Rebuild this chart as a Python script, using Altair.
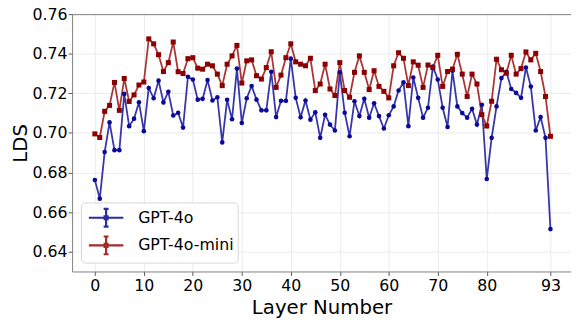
import altair as alt
import pandas as pd

models = ["GPT-4o", "GPT-4o-mini"]
line_colors = ["#2b2ba6", "#a52a2a"]
point_colors = ["#0a0a96", "#8b0000"]
x_ticks = [0, 10, 20, 30, 40, 50, 60, 70, 80, 93]
y_ticks = [0.64, 0.66, 0.68, 0.70, 0.72, 0.74, 0.76]

gpt4o = [0.6762, 0.6668, 0.6903, 0.7053, 0.6913, 0.6913, 0.7197, 0.7034, 0.7072, 0.7155,
         0.7009, 0.7227, 0.7175, 0.7264, 0.7154, 0.7208, 0.7088, 0.7102, 0.7027, 0.7284,
         0.7270, 0.7168, 0.7172, 0.7267, 0.7164, 0.7180, 0.6952, 0.7167, 0.7069, 0.7325,
         0.7050, 0.7175, 0.7237, 0.7168, 0.7114, 0.7114, 0.7309, 0.7080, 0.7162, 0.7162,
         0.7375, 0.7177, 0.7079, 0.7164, 0.7067, 0.7104, 0.6975, 0.7092, 0.7042, 0.7012,
         0.7306, 0.7102, 0.6983, 0.7160, 0.7085, 0.7172, 0.7077, 0.7150, 0.7085, 0.7022,
         0.7089, 0.7134, 0.7214, 0.7255, 0.7034, 0.7280, 0.7177, 0.7077, 0.7127, 0.7335,
         0.7270, 0.7127, 0.7030, 0.7314, 0.7134, 0.7100, 0.7077, 0.7122, 0.7042, 0.7142,
         0.6767, 0.6975, 0.7134, 0.7277, 0.7309, 0.7222, 0.7202, 0.7177, 0.7330, 0.7234,
         0.7012, 0.7080, 0.6975, 0.6514]

gpt4o_mini = [0.6995, 0.6977, 0.7109, 0.7139, 0.7255, 0.7114, 0.7275, 0.7159, 0.7192, 0.7242,
              0.7257, 0.7475, 0.7450, 0.7395, 0.7310, 0.7355, 0.7459, 0.7309, 0.7300, 0.7375,
              0.7380, 0.7327, 0.7322, 0.7347, 0.7339, 0.7297, 0.7239, 0.7347, 0.7389, 0.7442,
              0.7252, 0.7364, 0.7369, 0.7289, 0.7272, 0.7330, 0.7410, 0.7230, 0.7292, 0.7380,
              0.7450, 0.7359, 0.7347, 0.7339, 0.7377, 0.7214, 0.7247, 0.7347, 0.7222, 0.7189,
              0.7355, 0.7214, 0.7180, 0.7306, 0.7389, 0.7306, 0.7219, 0.7314, 0.7235, 0.7210,
              0.7177, 0.7339, 0.7405, 0.7377, 0.7239, 0.7359, 0.7342, 0.7230, 0.7343, 0.7330,
              0.7392, 0.7235, 0.7310, 0.7322, 0.7397, 0.7297, 0.7184, 0.7297, 0.7247, 0.7092,
              0.7035, 0.7160, 0.7372, 0.7319, 0.7302, 0.7392, 0.7297, 0.7325, 0.7409, 0.7369,
              0.7402, 0.7310, 0.7184, 0.6983]

rows = []
for m, vals in zip(models, [gpt4o, gpt4o_mini]):
    for i, v in enumerate(vals):
        rows.append({"layer": i, "lds": v, "model": m})
df = pd.DataFrame(rows)

FONT = "DejaVu Sans"

legend_symbol = ("M-1.75,0L1.75,0M0,-0.9L0,0.9M-0.25,-0.9L0.25,-0.9M-0.25,0.9L0.25,0.9"
                 "M-0.15,-0.15L0.15,-0.15L0.15,0.15L-0.15,0.15Z")

xscale = alt.Scale(domain=[-4.65, 97.2], nice=False, zero=False)
yscale = alt.Scale(domain=[0.63, 0.76], nice=False, zero=False)

lines = alt.Chart(df).mark_line(strokeWidth=1.8, opacity=0.95).encode(
    x=alt.X("layer:Q", scale=xscale,
            axis=alt.Axis(values=x_ticks, title="Layer Number", grid=True,
                          gridColor="#ebebeb", labelFontSize=16, titleFontSize=20,
                          titleFontWeight="normal", labelFont=FONT, titleFont=FONT,
                          labelColor="black", titleColor="black",
                          domainColor="#808080", tickColor="#555555", tickSize=4,
                          labelPadding=2, titlePadding=5, labelFlush=False)),
    y=alt.Y("lds:Q", scale=yscale,
            axis=alt.Axis(values=y_ticks, format=".2f", title="LDS", grid=True,
                          gridColor="#ebebeb", labelFontSize=16, titleFontSize=20,
                          titleFontWeight="normal", labelFont=FONT, titleFont=FONT,
                          labelColor="black", titleColor="black",
                          domainColor="#808080", tickColor="#555555", tickSize=4,
                          labelPadding=1, titlePadding=2, labelFlush=False)),
    color=alt.Color("model:N", scale=alt.Scale(domain=models, range=line_colors),
                    legend=alt.Legend(
                        title=None, orient="bottom-left", offset=9,
                        labelFontSize=16, labelFont=FONT, labelColor="black",
                        symbolType=legend_symbol, symbolSize=400,
                        symbolStrokeWidth=2.2, symbolOpacity=1,
                        symbolOffset=10, labelOffset=21, rowPadding=1,
                        padding=4, fillColor="rgba(255,255,255,0.85)",
                        strokeColor="#d6d6d6", cornerRadius=4)),
)

top_spine = alt.Chart(df).mark_point(opacity=0).encode(
    x=alt.X("layer:Q", scale=xscale,
            axis=alt.Axis(orient="top", labels=False, ticks=False, grid=False,
                          title=None, domainColor="#808080")),
    y=alt.Y("lds:Q", scale=yscale),
)

pts_blue = alt.Chart(df).transform_filter(alt.datum.model == models[0]).mark_point(
    filled=True, opacity=1, shape="circle", size=22, color=point_colors[0]).encode(
    x=alt.X("layer:Q", scale=xscale, axis=None),
    y=alt.Y("lds:Q", scale=yscale),
)

pts_red = alt.Chart(df).transform_filter(alt.datum.model == models[1]).mark_point(
    filled=True, opacity=1, shape="square", size=26, color=point_colors[1]).encode(
    x=alt.X("layer:Q", scale=xscale, axis=None),
    y=alt.Y("lds:Q", scale=yscale),
)

chart = alt.layer(lines, top_spine, pts_blue, pts_red).resolve_axis(
    x="independent").properties(
    width=506, height=261,
    autosize=alt.AutoSizeParams(type="none"),
    padding={"left": 65, "top": 4, "right": 0, "bottom": 48},
).configure_view(stroke=None)

chart.save("out.html", embed_options={"renderer": "svg", "actions": False})
